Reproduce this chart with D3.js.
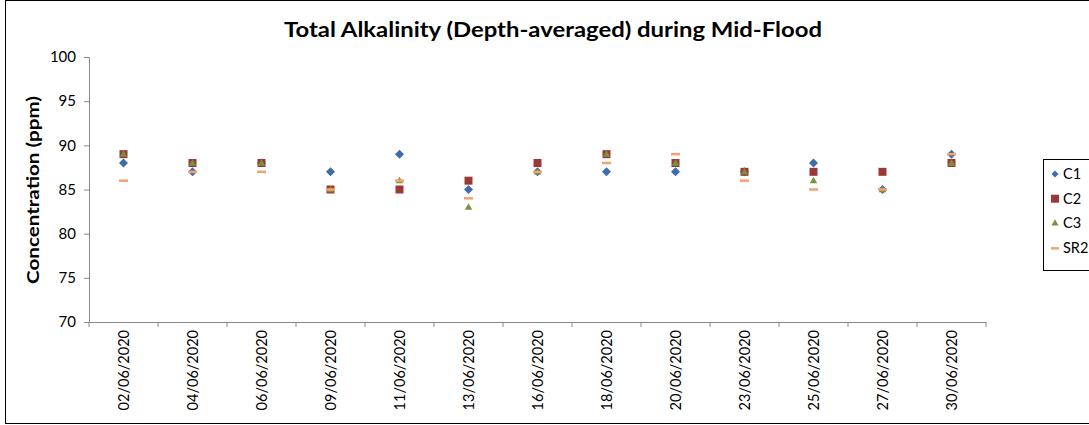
<!DOCTYPE html>
<html><head><meta charset="utf-8">
<script src="https://cdn.jsdelivr.net/npm/d3@7"></script>
<style>body{margin:0;background:#fff}svg{display:block}text{font-family:Lato,"Open Sans",sans-serif}</style>
</head><body><svg id="c" width="1089" height="425"></svg>
<script>
const categories = ["02/06/2020","04/06/2020","06/06/2020","09/06/2020","11/06/2020","13/06/2020","16/06/2020","18/06/2020","20/06/2020","23/06/2020","25/06/2020","27/06/2020","30/06/2020"];
const c1  = [88,87,88,87,89,85,87,87,87,87,88,85,89];
const c2  = [89,88,88,85,85,86,88,89,88,87,87,87,88];
const c3  = [89,88,88,85,86,83,87,89,88,87,86,85,88];
const sr2 = [86,87,87,85,86,84,87,88,89,86,85,85,89];
const yTicks = [70,75,80,85,90,95,100];
const seriesNames = ["C1","C2","C3","SR2"];

const svg = d3.select("#c");
svg.append("rect").attr("x",5.5).attr("y",0.5).attr("width",1100).attr("height",423).attr("fill","none").attr("stroke","#000").attr("stroke-width",1);

const x = d3.scaleBand().domain(categories).range([89,986]);
const y = d3.scaleLinear().domain([70,100]).range([322,57]);

svg.append("text").attr("x",553).attr("y",37).attr("text-anchor","middle").attr("font-size",21).attr("font-weight","bold")
  .attr("textLength",538).attr("lengthAdjust","spacingAndGlyphs").text("Total Alkalinity (Depth-averaged) during Mid-Flood");

const ya = svg.append("g").attr("transform","translate(89,0)").call(d3.axisLeft(y).tickValues(yTicks).tickSize(5).tickPadding(8));
ya.select(".domain").attr("stroke","#888");
ya.selectAll(".tick line").attr("stroke","#888");
ya.selectAll("text").attr("font-size",15).attr("fill","#000").style("font-family","Lato,'Open Sans',sans-serif");

const xa = svg.append("g").attr("transform","translate(0,322)").call(d3.axisBottom(x).tickSize(0).tickSizeOuter(0));
xa.select(".domain").attr("stroke","#888");
xa.selectAll(".tick line").remove();
xa.selectAll("text").attr("font-size",14.5).attr("fill","#000").style("font-family","Lato,'Open Sans',sans-serif")
  .attr("transform","rotate(-90)").attr("text-anchor","end").attr("x",-8).attr("y",0).attr("dy","0.35em");
xa.selectAll(".bt").data(categories.concat(["_end"])).enter().append("line").attr("class","bt")
  .attr("x1",(d,i)=>89+i*x.step()).attr("x2",(d,i)=>89+i*x.step()).attr("y1",0).attr("y2",5).attr("stroke","#888");

svg.append("text").attr("transform","translate(39,190) rotate(-90)").attr("text-anchor","middle").attr("font-size",17).attr("font-weight","bold")
  .attr("textLength",188).attr("lengthAdjust","spacingAndGlyphs").text("Concentration (ppm)");

const cx = d => x(d)+x.bandwidth()/2;
const diamond = r => `M0,${-r}L${r},0L0,${r}L${-r},0Z`;
const gC1 = svg.append("g");
gC1.selectAll("path").data(c1).enter().append("path").attr("d",diamond(4.5)).attr("fill","#3F6CAA")
  .attr("transform",(d,i)=>`translate(${cx(categories[i])},${y(d)})`);
const gC2 = svg.append("g");
gC2.selectAll("rect").data(c2).enter().append("rect").attr("width",8).attr("height",8).attr("fill","#993A39")
  .attr("x",(d,i)=>cx(categories[i])-4).attr("y",d=>y(d)-4);
const gC3 = svg.append("g");
gC3.selectAll("path").data(c3).enter().append("path").attr("d",d3.symbol(d3.symbolTriangle,24)()).attr("fill","#77933C")
  .attr("transform",(d,i)=>`translate(${cx(categories[i])},${y(d)+0.5})`);
const gS = svg.append("g");
gS.selectAll("rect").data(sr2).enter().append("rect").attr("width",9).attr("height",2.5).attr("fill","#F5A26F")
  .attr("x",(d,i)=>cx(categories[i])-4.5).attr("y",d=>y(d)-1.25);

const lg = svg.append("g");
lg.append("rect").attr("x",1043.5).attr("y",159.5).attr("width",60).attr("height",111).attr("fill","#fff").attr("stroke","#000");
const ly = i => 174 + i*24.7;
seriesNames.forEach((n,i)=>{
  const yy = ly(i);
  if(i===0) lg.append("path").attr("d",diamond(3.5)).attr("fill","#3F6CAA").attr("transform",`translate(1055,${yy})`);
  if(i===1) lg.append("rect").attr("x",1051).attr("y",yy-4).attr("width",8).attr("height",8).attr("fill","#993A39");
  if(i===2) lg.append("path").attr("d",d3.symbol(d3.symbolTriangle,22)()).attr("fill","#77933C").attr("transform",`translate(1055,${yy})`);
  if(i===3) lg.append("rect").attr("x",1051).attr("y",yy-1).attr("width",8).attr("height",2.5).attr("fill","#F5A26F");
  lg.append("text").attr("x",1063).attr("y",yy).attr("dy","0.35em").attr("font-size",14.5).text(n);
});
</script></body></html>
